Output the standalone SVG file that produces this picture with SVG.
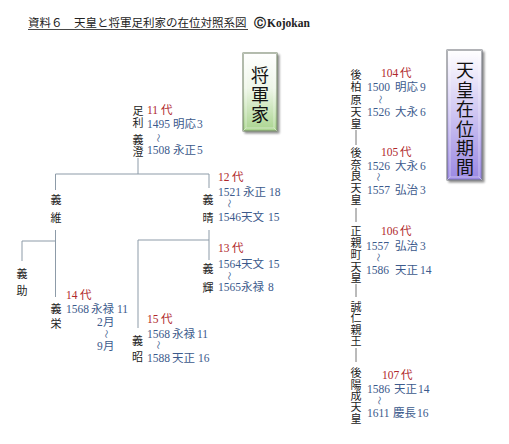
<svg xmlns="http://www.w3.org/2000/svg" width="509" height="444" viewBox="0 0 509 444">
<defs>
<linearGradient id="gGreen" x1="0" y1="0" x2="0" y2="1">
<stop offset="0" stop-color="#ffffff"/>
<stop offset="0.45" stop-color="#eef6e8"/>
<stop offset="1" stop-color="#a9d48e"/>
</linearGradient>
<linearGradient id="gPurple" x1="0" y1="0" x2="0" y2="1">
<stop offset="0" stop-color="#ffffff"/>
<stop offset="0.35" stop-color="#ddd6f6"/>
<stop offset="1" stop-color="#9a88e2"/>
</linearGradient>
<filter id="shadow" x="-30%" y="-10%" width="160%" height="125%">
<feGaussianBlur in="SourceAlpha" stdDeviation="1.2"/>
<feOffset dx="2" dy="2" result="b"/>
<feComponentTransfer><feFuncA type="linear" slope="0.45"/></feComponentTransfer>
<feMerge><feMergeNode/><feMergeNode in="SourceGraphic"/></feMerge>
</filter>
</defs>
<style>
.title{font-family:"Noto Sans CJK JP","Liberation Sans",sans-serif;font-size:11.5px;fill:#222}
.copy{font-family:"Liberation Serif","DejaVu Serif",serif;font-size:11.5px;font-weight:bold;fill:#222}
.name{font-family:"Noto Sans CJK JP",sans-serif;font-size:11px;fill:#222;text-anchor:middle;dominant-baseline:central}
.gen{font-family:"Liberation Serif","Noto Sans CJK JP",serif;font-size:11.5px;fill:#b0282c;dominant-baseline:central}
.era{font-family:"Liberation Serif","Noto Sans CJK JP",serif;font-size:11.5px;fill:#3c5a8c;dominant-baseline:central}
.til{font-family:"Noto Sans CJK JP",sans-serif;font-size:9px;fill:#3c5a8c;text-anchor:middle;dominant-baseline:central}
.big{font-family:"Noto Sans CJK JP",serif;font-size:18px;fill:#111;text-anchor:middle;dominant-baseline:central}
.conn{stroke:#8d9ba8;stroke-width:1;fill:none}
.dash{stroke:#666;stroke-width:0.9;fill:none}
.bevel{stroke:#ffffff;stroke-opacity:0.55;stroke-width:0.8;fill:none}
</style>

<g id="title">
<text class="title" x="28" y="27">資料６　天皇と将軍足利家の在位対照系図</text>
<line x1="28" y1="29.5" x2="248" y2="29.5" stroke="#333" stroke-width="0.9"/>
<text class="copy" x="254" y="27">Ⓒ<tspan x="267">Kojokan</tspan></text>
</g>

<g id="connectors">
<line class="conn" x1="138" y1="158" x2="138" y2="174"/>
<line class="conn" x1="55.5" y1="174" x2="209" y2="174"/>
<line class="conn" x1="55.5" y1="174" x2="55.5" y2="190"/>
<line class="conn" x1="209" y1="174" x2="209" y2="188"/>
<line class="conn" x1="55.5" y1="230" x2="55.5" y2="297"/>
<line class="conn" x1="22" y1="241" x2="55.5" y2="241"/>
<line class="conn" x1="22" y1="241" x2="22" y2="261"/>
<line class="conn" x1="209" y1="230" x2="209" y2="260"/>
<line class="conn" x1="138" y1="240" x2="209" y2="240"/>
<line class="conn" x1="138" y1="240" x2="138" y2="328"/>
<line class="dash" x1="356" y1="130" x2="356" y2="145"/>
<line class="dash" x1="356" y1="208" x2="356" y2="222"/>
<line class="dash" x1="356" y1="284" x2="356" y2="297"/>
<line class="dash" x1="356" y1="348" x2="356" y2="362"/>
</g>

<g id="box-shogun">
<rect x="243" y="53" width="34" height="78" fill="url(#gGreen)" stroke="#6a7a5e" stroke-width="1" filter="url(#shadow)"/>
<rect class="bevel" x="246" y="56" width="28" height="72"/>
<path class="bevel" d="M243,53 L246,56 M277,53 L274,56 M243,131 L246,128 M277,131 L274,128"/>
<text class="big"><tspan x="260" y="74">将</tspan><tspan x="260" y="94">軍</tspan><tspan x="260" y="113">家</tspan></text>
</g>

<g id="box-tenno">
<rect x="447" y="50" width="35" height="130" fill="url(#gPurple)" stroke="#666a70" stroke-width="1" filter="url(#shadow)"/>
<rect class="bevel" x="450" y="53" width="29" height="124"/>
<path class="bevel" d="M447,50 L450,53 M482,50 L479,53 M447,180 L450,177 M482,180 L479,177"/>
<text class="big"><tspan x="465" y="69">天</tspan><tspan x="465" y="89">皇</tspan><tspan x="465" y="108">在</tspan><tspan x="465" y="127.5">位</tspan><tspan x="465" y="147">期</tspan><tspan x="465" y="166">間</tspan></text>
</g>

<g id="shogun-11">
<text class="name"><tspan x="138" y="110">足</tspan><tspan x="138" y="122">利</tspan><tspan x="138" y="139">義</tspan><tspan x="138" y="150.5">澄</tspan></text>
<text class="gen" x="147" y="110">11<tspan x="161">代</tspan></text>
<text class="era" x="147" y="124">1495<tspan x="173">明応</tspan><tspan x="197">3</tspan></text>
<text class="til" x="158" y="138" transform="rotate(90 158 138)">〜</text>
<text class="era" x="147" y="149.5">1508<tspan x="173">永正</tspan><tspan x="197">5</tspan></text>
</g>

<g id="shogun-yoshitsuna">
<text class="name"><tspan x="56" y="199">義</tspan><tspan x="56" y="217">維</tspan></text>
</g>

<g id="shogun-12">
<text class="name"><tspan x="208" y="199">義</tspan><tspan x="208" y="217">晴</tspan></text>
<text class="gen" x="218" y="177">12<tspan x="232">代</tspan></text>
<text class="era" x="218" y="192">1521<tspan x="243">永正</tspan><tspan x="269">18</tspan></text>
<text class="til" x="229" y="203.5" transform="rotate(90 229 203.5)">〜</text>
<text class="era" x="218" y="217">1546<tspan x="241">天文</tspan><tspan x="268">15</tspan></text>
</g>

<g id="shogun-yoshisuke">
<text class="name"><tspan x="22" y="273">義</tspan><tspan x="22" y="290">助</tspan></text>
</g>

<g id="shogun-13">
<text class="name"><tspan x="208" y="268">義</tspan><tspan x="208" y="287">輝</tspan></text>
<text class="gen" x="218" y="248">13<tspan x="232">代</tspan></text>
<text class="era" x="218" y="264">1564<tspan x="241">天文</tspan><tspan x="268">15</tspan></text>
<text class="til" x="229" y="276" transform="rotate(90 229 276)">〜</text>
<text class="era" x="218" y="287">1565<tspan x="241">永禄</tspan><tspan x="268">8</tspan></text>
</g>

<g id="shogun-14">
<text class="name"><tspan x="56" y="308">義</tspan><tspan x="56" y="323">栄</tspan></text>
<text class="gen" x="66" y="295">14<tspan x="80">代</tspan></text>
<text class="era" x="66" y="309">1568<tspan x="91">永禄</tspan><tspan x="117">11</tspan></text>
<text class="era" x="97" y="322">2<tspan x="103">月</tspan></text>
<text class="til" x="106" y="334" transform="rotate(90 106 334)">〜</text>
<text class="era" x="97" y="346">9<tspan x="103">月</tspan></text>
</g>

<g id="shogun-15">
<text class="name"><tspan x="137.5" y="340">義</tspan><tspan x="137.5" y="356">昭</tspan></text>
<text class="gen" x="147" y="319">15<tspan x="161">代</tspan></text>
<text class="era" x="147" y="334">1568<tspan x="172">永禄</tspan><tspan x="197">11</tspan></text>
<text class="til" x="158" y="345" transform="rotate(90 158 345)">〜</text>
<text class="era" x="147" y="358">1588<tspan x="172">天正</tspan><tspan x="198">16</tspan></text>
</g>

<g id="emperor-104">
<text class="name"><tspan x="356" y="74">後</tspan><tspan x="356" y="86">柏</tspan><tspan x="356" y="98.5">原</tspan><tspan x="356" y="110.5">天</tspan><tspan x="356" y="122.5">皇</tspan></text>
<text class="gen" x="381" y="73">104<tspan x="400">代</tspan></text>
<text class="era" x="367" y="87">1500<tspan x="395">明応</tspan><tspan x="420">9</tspan></text>
<text class="til" x="380" y="99.5" transform="rotate(90 380 99.5)">〜</text>
<text class="era" x="367" y="112">1526<tspan x="395">大永</tspan><tspan x="420">6</tspan></text>
</g>

<g id="emperor-105">
<text class="name"><tspan x="356" y="152">後</tspan><tspan x="356" y="163.5">奈</tspan><tspan x="356" y="175">良</tspan><tspan x="356" y="187">天</tspan><tspan x="356" y="198.5">皇</tspan></text>
<text class="gen" x="381" y="152">105<tspan x="400">代</tspan></text>
<text class="era" x="367" y="166">1526<tspan x="395">大永</tspan><tspan x="420">6</tspan></text>
<text class="til" x="378" y="177" transform="rotate(90 378 177)">〜</text>
<text class="era" x="367" y="190">1557<tspan x="395">弘治</tspan><tspan x="420">3</tspan></text>
</g>

<g id="emperor-106">
<text class="name"><tspan x="356" y="230">正</tspan><tspan x="356" y="242">親</tspan><tspan x="356" y="254">町</tspan><tspan x="356" y="265.5">天</tspan><tspan x="356" y="277">皇</tspan></text>
<text class="gen" x="381" y="231">106<tspan x="400">代</tspan></text>
<text class="era" x="366" y="246">1557<tspan x="395">弘治</tspan><tspan x="420">3</tspan></text>
<text class="til" x="378" y="257.5" transform="rotate(90 378 257.5)">〜</text>
<text class="era" x="366" y="270">1586<tspan x="395">天正</tspan><tspan x="420">14</tspan></text>
</g>

<g id="emperor-prince">
<text class="name"><tspan x="356" y="305.5">誠</tspan><tspan x="356" y="317">仁</tspan><tspan x="356" y="328.5">親</tspan><tspan x="356" y="339.5">王</tspan></text>
</g>

<g id="emperor-107">
<text class="name"><tspan x="356" y="372">後</tspan><tspan x="356" y="383.5">陽</tspan><tspan x="356" y="395">成</tspan><tspan x="356" y="406">天</tspan><tspan x="356" y="417.5">皇</tspan></text>
<text class="gen" x="382" y="375">107<tspan x="401">代</tspan></text>
<text class="era" x="367" y="389">1586<tspan x="394">天正</tspan><tspan x="418">14</tspan></text>
<text class="til" x="379" y="400.5" transform="rotate(90 379 400.5)">〜</text>
<text class="era" x="367" y="413">1611<tspan x="393">慶長</tspan><tspan x="417">16</tspan></text>
</g>
</svg>
